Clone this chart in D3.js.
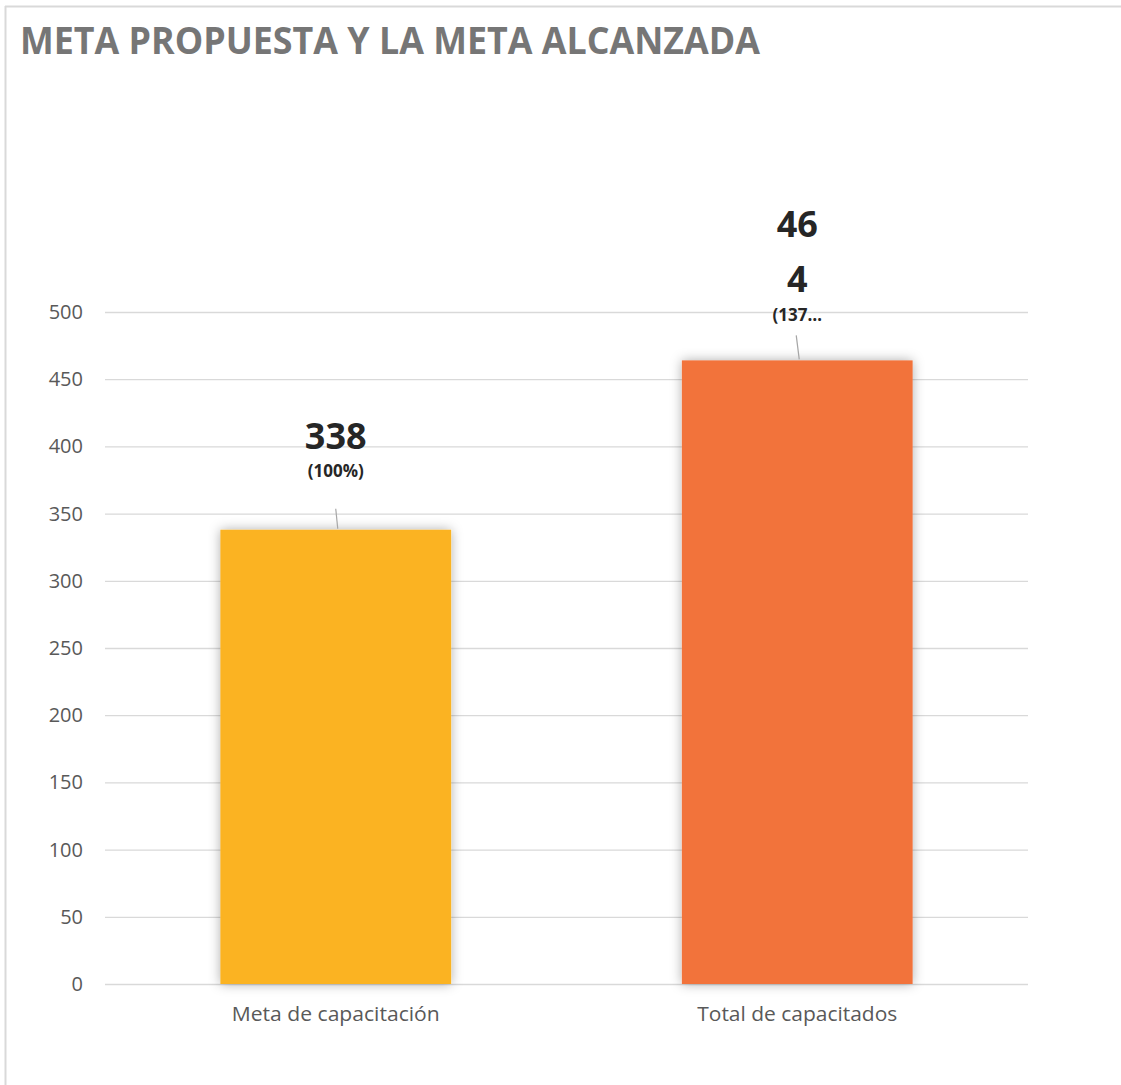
<!DOCTYPE html>
<html>
<head>
<meta charset="utf-8">
<script src="https://cdn.jsdelivr.net/npm/d3@7"></script>
<style>
  body { margin: 0; background: #fff; }
  svg text { font-family: "Open Sans", "Noto Sans", sans-serif; }
</style>
</head>
<body>
<div id="plot"></div>
<script>
// data
var categories = ["Meta de capacitación", "Total de capacitados"];
var values = [338, 464];
var valueLines = [["338"], ["46", "4"]];
var pctLabels = ["(100%)", "(137…"];
var barColors = ["#FBB323", "#F2733B"];
var yTicks = [0, 50, 100, 150, 200, 250, 300, 350, 400, 450, 500];

var width = 1121, height = 1085;
var margin = {top: 312, right: 93, bottom: 101, left: 105};

var svg = d3.select("#plot")
  .append("svg")
    .attr("width", width)
    .attr("height", height);

// shadow for bars
var defs = svg.append("defs");
var f = defs.append("filter").attr("id", "shadow")
  .attr("x", "-20%").attr("y", "-20%").attr("width", "140%").attr("height", "140%");
f.append("feDropShadow")
  .attr("dx", 0).attr("dy", 0).attr("stdDeviation", 6)
  .attr("flood-color", "#000").attr("flood-opacity", 0.32);

// chart frame (only top and left edges are visible)
svg.append("line").attr("x1", 5).attr("x2", width).attr("y1", 6.5).attr("y2", 6.5)
  .attr("stroke", "#d9d9d9").attr("stroke-width", 2);
svg.append("line").attr("x1", 5.5).attr("x2", 5.5).attr("y1", 6).attr("y2", height)
  .attr("stroke", "#d9d9d9").attr("stroke-width", 2);

// title
svg.append("text")
  .attr("x", 20).attr("y", 54)
  .attr("font-size", 37).attr("font-weight", 700)
  .attr("fill", "#767676")
  .attr("textLength", 740).attr("lengthAdjust", "spacingAndGlyphs")
  .text("META PROPUESTA Y LA META ALCANZADA");

var plotW = width - margin.left - margin.right;
var plotH = height - margin.top - margin.bottom;

var g = svg.append("g")
  .attr("transform", "translate(" + margin.left + "," + margin.top + ")");

var x = d3.scaleBand()
  .domain(categories)
  .range([0, plotW])
  .paddingInner(0.5)
  .paddingOuter(0.25);

var y = d3.scaleLinear()
  .domain([0, 500])
  .range([plotH, 0]);

// gridlines
g.append("g")
  .call(d3.axisLeft(y).tickValues(yTicks).tickSize(-plotW).tickFormat(""))
  .call(s => s.select(".domain").remove())
  .selectAll("line")
    .attr("stroke", "#d9d9d9").attr("stroke-width", 1.3);

// y tick labels
g.append("g")
  .call(d3.axisLeft(y).tickValues(yTicks).tickSize(0).tickPadding(22))
  .call(s => s.select(".domain").remove())
  .selectAll("text")
    .attr("font-size", 20).attr("fill", "#595959");

// x axis labels
g.append("g")
  .attr("transform", "translate(0," + plotH + ")")
  .call(d3.axisBottom(x).tickSize(0).tickPadding(23))
  .call(s => s.select(".domain").remove())
  .selectAll("text")
    .attr("font-size", 20).attr("fill", "#595959")
    .attr("textLength", (d, i) => i === 0 ? 208 : 200)
    .attr("lengthAdjust", "spacingAndGlyphs");

// bars
g.selectAll(".bar")
  .data(values)
  .enter()
  .append("rect")
    .attr("class", "bar")
    .attr("x", (d, i) => x(categories[i]))
    .attr("y", d => y(d))
    .attr("width", x.bandwidth())
    .attr("height", d => plotH - y(d))
    .attr("fill", (d, i) => barColors[i])
    .attr("filter", "url(#shadow)");

// data labels with leader lines
values.forEach(function(v, i) {
  var cx = x(categories[i]) + x.bandwidth() / 2;
  var top = y(v);
  var lines = valueLines[i];
  var wrapped = lines.length > 1;
  var pctY = wrapped ? top - 39 : top - 53;
  // leader line
  g.append("line")
    .attr("x1", wrapped ? cx - 1 : cx).attr("x2", cx + 2)
    .attr("y1", top - (wrapped ? 25 : 21)).attr("y2", top - 1)
    .attr("stroke", "#a6a6a6").attr("stroke-width", 1.2);
  // percentage
  g.append("text")
    .attr("x", cx).attr("y", pctY)
    .attr("text-anchor", "middle")
    .attr("font-size", 17).attr("font-weight", 700)
    .attr("fill", "#262626")
    .text(pctLabels[i]);
  // value (may wrap)
  var lineH = 55;
  var lastY = pctY - (wrapped ? 29 : 28);
  lines.forEach(function(t, k) {
    g.append("text")
      .attr("x", cx).attr("y", lastY - (lines.length - 1 - k) * lineH)
      .attr("text-anchor", "middle")
      .attr("font-size", 36).attr("font-weight", 700)
      .attr("fill", "#262626")
      .text(t);
  });
});
</script>
</body>
</html>
